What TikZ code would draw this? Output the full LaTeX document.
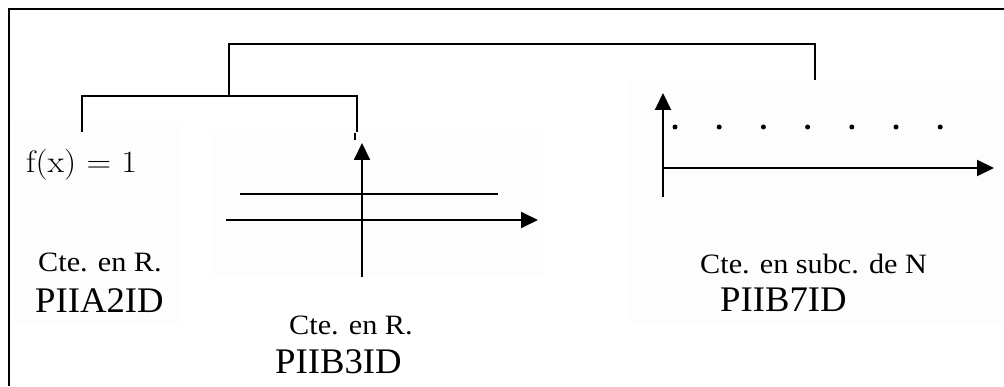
\documentclass[tikz,border=0pt]{standalone}
\usepackage{fontspec}
\newfontfamily\labelfont{Liberation Serif}
\usetikzlibrary{arrows.meta}
\begin{document}
\begin{tikzpicture}[x=1pt,y=1pt,
  rule/.style={line width=2pt,line cap=butt},
  axis/.style={line width=2pt,-{Triangle[length=17pt,width=16pt]}},
  panel/.style={fill=black!0.6,draw=none},
  small/.style={inner sep=0pt,anchor=base west,font=\labelfont\fontsize{28}{32}\selectfont,xscale=1.08},
  big/.style={inner sep=0pt,anchor=base west,font=\labelfont\fontsize{36}{40}\selectfont,xscale=1.02},
  dot/.style={circle,fill=black,inner sep=0pt,minimum size=5pt}]
\useasboundingbox (0,0) rectangle (1004,386);
\fill[white] (0,0) rectangle (1004,386);

% light backgrounds behind the three pasted panels
\fill[panel] (15,63) rectangle (182,264);
\fill[panel] (210,109) rectangle (543,256);
\fill[panel] (630,63) rectangle (1004,306);

% frame: top and left edges
\draw[rule] (8,377) -- (1004,377);
\draw[rule] (9,377) -- (9,0);

% bracket joining the two constant graphs on R
\coordinate (la) at (82,254);
\coordinate (lb) at (357,254);
\coordinate (lm) at (229,290);
\draw[rule] (la) -- (82,290) -- (357,290) -- (lb);
\draw[line width=1.5pt] (355,253) -- (355,246);

% upper bracket joining to the sequence graph
\coordinate (ub) at (815,306);
\draw[rule] (lm) -- (229,342) -- (815,342) -- (ub);

% left: formula and labels
\node[inner sep=0pt,anchor=base west,font=\fontsize{31}{34}\selectfont,xscale=1.1] (fx) at (26,213) {f(x) = 1};
\node[small] (c1) at (38,114) {Cte. en R.};
\node[big] (p1) at (35,74) {PIIA2ID};

% middle: constant function on R
\coordinate (my0) at (362,109);
\coordinate (my1) at (362,243);
\coordinate (mx0) at (226,166);
\coordinate (mx1) at (538,166);
\draw[axis] (my0) -- (my1);
\draw[axis] (mx0) -- (mx1);
\draw[line width=1.5pt] (240,192) -- (498,192);
\node[small] (c2) at (289,52) {Cte. en R.};
\node[big] (p2) at (275,13) {PIIB3ID};

% right: constant sequence on a subset of N
\coordinate (ry0) at (663,189);
\coordinate (ry1) at (663,293);
\coordinate (rx1) at (994,218);
\draw[axis] (ry0) -- (ry1);
\draw[axis] (663,218) -- (rx1);
\foreach \i in {0,...,6}
  \node[dot] (d\i) at (675+44.2*\i,259) {};
\node[small] (c3) at (700,113) {Cte. en subc. de N};
\node[big] (p3) at (720,75) {PIIB7ID};
\end{tikzpicture}
\end{document}
